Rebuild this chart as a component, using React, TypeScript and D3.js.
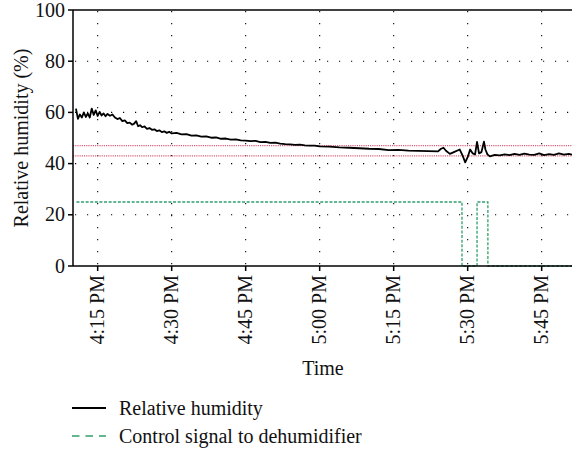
import React from "react";
import * as d3 from "d3";

// minutes after 4:00 PM
const humidityTimes = [
  10.6, 11.0, 11.4, 11.8, 12.2, 12.6, 13.0, 13.4, 13.8, 14.2, 14.6, 15.0, 15.4, 15.8, 16.2, 16.6,
  17.0, 17.5, 18.0, 18.5, 19.0, 19.5, 20.0, 20.5, 21.0, 21.5, 22.0, 22.4, 22.8, 23.2, 23.6, 24.0,
  24.5, 25.0, 25.5, 26.0, 26.5, 27.0, 27.5, 28.0, 28.5, 29.0, 29.5, 30.0, 31, 32, 33, 34, 35, 36,
  37, 38, 39, 40, 41, 42, 43, 44, 45, 46, 47, 48, 49, 50, 51, 52, 53, 54, 55, 56, 57, 58, 59, 60,
  62, 64, 66, 68, 70, 72, 74, 76, 78, 80, 82, 84, 84.6, 85.1, 85.6, 86.4, 87.2, 88.4, 89.0, 89.5,
  90.0, 90.5, 91.0, 91.5, 91.9, 92.3, 92.8, 93.3, 93.6, 94.0, 94.5, 95.5, 96.5, 97.5, 98.5, 99.5,
  100.5, 101.5, 102.5, 103.5, 104.5, 105.5, 106.5, 107.5, 108.5, 109.5, 110.5, 111.2,
];
const humidityValues = [
  61.5, 57.5, 59.2, 58.0, 60.0, 58.2, 59.6, 58.0, 61.5, 59.0, 60.8, 58.6, 60.2, 58.8, 59.6, 58.5,
  59.4, 58.7, 59.2, 58.0, 57.4, 57.8, 56.6, 56.9, 55.8, 56.0, 55.2, 55.6, 56.6, 54.6, 55.0, 54.2,
  54.5, 53.6, 53.9, 53.2, 53.4, 52.7, 53.0, 52.3, 52.6, 52.0, 52.4, 51.8, 52.0, 51.4, 51.5, 50.9,
  51.0, 50.5, 50.6, 50.1, 50.2, 49.7, 49.8, 49.4, 49.5, 49.1, 49.0, 48.8, 48.9, 48.4, 48.5, 48.1,
  48.2, 47.8, 47.6, 47.5, 47.3, 47.4, 47.1, 47.0, 47.0, 46.7, 46.6, 46.3, 46.2, 46.0, 45.8, 45.7,
  45.3, 45.4, 45.1, 45.0, 44.9, 44.8, 45.8, 46.2, 45.0, 43.8, 44.5, 45.5, 43.0, 40.5, 42.5, 45.5,
  44.0, 43.6, 48.5, 44.0, 44.5, 48.6, 45.5, 43.6, 42.8, 43.4, 43.2, 43.6, 43.3, 43.8, 43.4, 43.9,
  43.5, 43.4, 44.0, 43.3, 43.7, 43.4, 44.0, 43.5, 43.8, 43.5,
];

const controlTimes = [10.7, 88.85, 88.85, 91.9, 91.9, 94.1, 94.1, 112];
const controlValues = [25, 25, 0, 0, 25, 25, 0, 0];

const thresholdValues = [47, 43];

const xTickMinutes = [15, 30, 45, 60, 75, 90, 105];
const xTickLabels = ["4:15 PM", "4:30 PM", "4:45 PM", "5:00 PM", "5:15 PM", "5:30 PM", "5:45 PM"];
const yTicks = [0, 20, 40, 60, 80, 100];
const yGrid = [20, 40, 60, 80];

const legendLabels = ["Relative humidity", "Control signal to dehumidifier"];

const FONT = '"Liberation Serif"';
const GREEN = "#2f9e6c";
const RED = "#d8607c";

export default function App() {
  const W = 572;
  const H = 451;
  const left = 73;
  const top = 10;
  const bottom = 266;
  const right = 572;

  const x = d3.scaleLinear().domain([10, 10 + ((right - left) * 15) / 74]).range([left, right]);
  const y = d3.scaleLinear().domain([0, 100]).range([bottom, top]);

  const humLine = d3
    .line<number>()
    .x((_, i) => x(humidityTimes[i]))
    .y((v) => y(v))(humidityValues) as string;
  const ctrlLine = d3
    .line<number>()
    .x((_, i) => x(controlTimes[i]))
    .y((v) => y(v))(controlValues) as string;

  const fs = 20;
  const textStyle = { fontFamily: FONT };

  return (
    <svg width={W} height={H} style={{ position: "absolute", left: 0, top: 0 }}>
      <rect x={0} y={0} width={W} height={H} fill="#fff" />
      {/* grid */}
      {xTickMinutes.map((m) => (
        <line
          key={"gx" + m}
          x1={x(m)}
          x2={x(m)}
          y1={top}
          y2={bottom}
          stroke="#000"
          strokeWidth={1.1}
          strokeDasharray="1.2,10.8"
          strokeDashoffset={-1}
        />
      ))}
      {yGrid.map((v) => (
        <line
          key={"gy" + v}
          x1={left}
          x2={right}
          y1={y(v)}
          y2={y(v)}
          stroke="#000"
          strokeWidth={1.1}
          strokeDasharray="1.2,10.8"
          strokeDashoffset={-2}
        />
      ))}
      {/* thresholds */}
      {thresholdValues.map((v) => (
        <line
          key={"th" + v}
          x1={left}
          x2={right}
          y1={y(v)}
          y2={y(v)}
          stroke={RED}
          strokeWidth={1.3}
          strokeDasharray="1.2,1"
        />
      ))}
      {/* control signal */}
      <path d={ctrlLine} fill="none" stroke={GREEN} strokeWidth={1.3} strokeDasharray="3,1.6" />
      {/* humidity */}
      <path d={humLine} fill="none" stroke="#000" strokeWidth={1.8} strokeLinejoin="round" />
      {/* axes */}
      <line x1={left} x2={right} y1={top} y2={top} stroke="#000" strokeWidth={1.5} />
      <line x1={left} x2={left} y1={top} y2={bottom} stroke="#000" strokeWidth={1.5} />
      <line x1={left} x2={right} y1={bottom} y2={bottom} stroke="#000" strokeWidth={1.5} />
      {yTicks.map((v) => (
        <g key={"yt" + v}>
          <line x1={left - 5} x2={left} y1={y(v)} y2={y(v)} stroke="#000" strokeWidth={1.5} />
          <text x={left - 8} y={y(v) + 6.5} textAnchor="end" fontSize={fs} fill="#111" style={textStyle}>
            {v}
          </text>
        </g>
      ))}
      {xTickMinutes.map((m, i) => (
        <g key={"xt" + m}>
          <line x1={x(m)} x2={x(m)} y1={bottom} y2={bottom + 5} stroke="#000" strokeWidth={1.5} />
          <text
            transform={`translate(${x(m) + 6.5},${bottom + 9}) rotate(-90)`}
            textAnchor="end"
            fontSize={fs}
            fill="#111"
            style={textStyle}
          >
            {xTickLabels[i]}
          </text>
        </g>
      ))}
      <text
        transform={`translate(28,${(top + bottom) / 2}) rotate(-90)`}
        textAnchor="middle"
        fontSize={fs}
        fill="#111"
        style={textStyle}
      >
        Relative humidity (%)
      </text>
      <text x={323} y={375} textAnchor="middle" fontSize={fs} fill="#111" style={textStyle}>
        Time
      </text>
      {/* legend */}
      <line x1={72} x2={106} y1={408} y2={408} stroke="#000" strokeWidth={2} />
      <text x={119} y={415} fontSize={fs} fill="#111" style={textStyle}>
        {legendLabels[0]}
      </text>
      <line x1={72} x2={106} y1={436} y2={436} stroke={GREEN} strokeWidth={1.6} strokeDasharray="7.5,6" />
      <text x={119} y={443} fontSize={fs} fill="#111" style={textStyle}>
        {legendLabels[1]}
      </text>
    </svg>
  );
}
